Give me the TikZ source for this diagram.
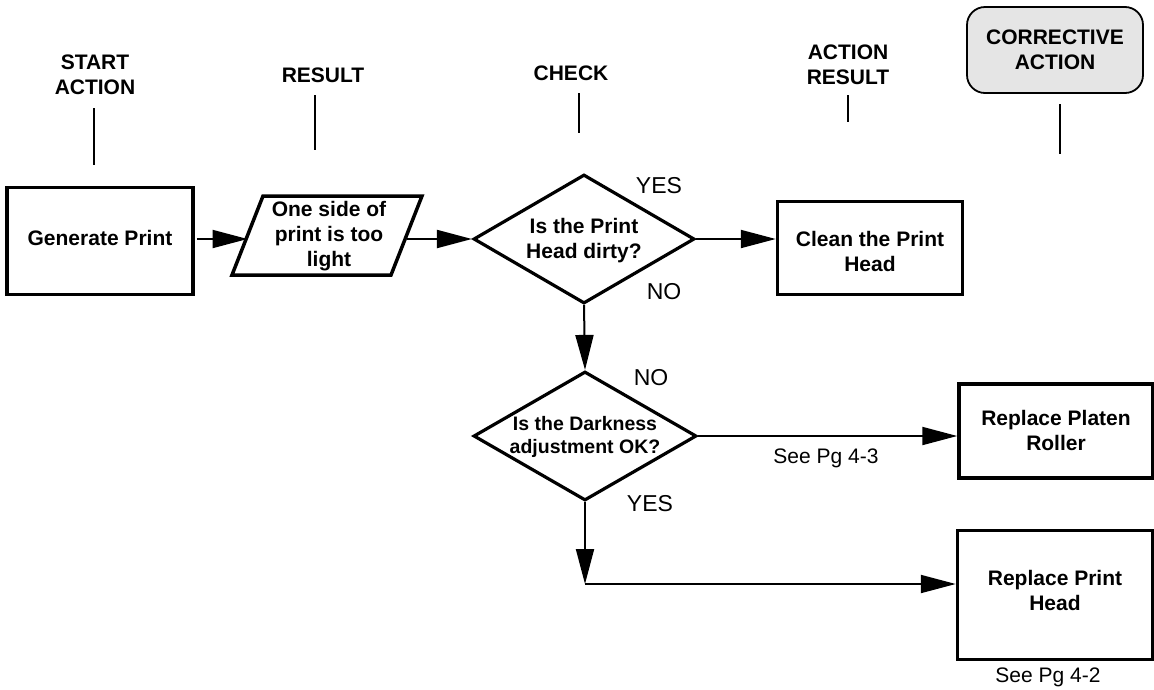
\documentclass[tikz,border=0pt]{standalone}
\usepackage{fontspec}
\setmainfont{Liberation Sans}
\usetikzlibrary{arrows.meta,shapes.geometric}
\begin{document}
\begin{tikzpicture}[x=1pt,y=-1pt,
  box/.style={draw,line width=3.5pt,rectangle,inner sep=0pt},
  dia/.style={draw,line width=3.2pt,diamond,inner sep=0pt,minimum width=221pt,minimum height=129pt},
  lbl/.style={font=\fontsize{21}{25}\selectfont\bfseries,align=center,inner sep=0pt},
  plain/.style={font=\fontsize{23}{27}\selectfont,inner sep=0pt},
  small/.style={font=\fontsize{21}{25}\selectfont,inner sep=0pt},
  hdr/.style={line width=1.8pt},
  conn/.style={line width=2pt,-{Triangle[length=35pt,width=18pt]}}]
\useasboundingbox (0,0) rectangle (1154,689);
% header labels
\node[lbl] (hstart) at (95,75) {START\\ACTION};
\node[lbl] (hres) at (323,75) {RESULT};
\node[lbl] (hchk) at (571,73) {CHECK};
\node[lbl] (hact) at (848,65) {ACTION\\RESULT};
\node[draw,line width=1.8pt,rounded corners=18pt,fill=black!10,minimum width=176pt,minimum height=86pt,lbl] (hcor) at (1055,50) {CORRECTIVE\\ACTION};
\coordinate (l1a) at (94,108); \coordinate (l1b) at (94,165);
\coordinate (l2a) at (315,95); \coordinate (l2b) at (315,150);
\coordinate (l3a) at (579,93); \coordinate (l3b) at (579,133);
\coordinate (l4a) at (848,95); \coordinate (l4b) at (848,122);
\coordinate (l5a) at (1060,104); \coordinate (l5b) at (1060,154);
\draw[hdr] (l1a) -- (l1b);
\draw[hdr] (l2a) -- (l2b);
\draw[hdr] (l3a) -- (l3b);
\draw[hdr] (l4a) -- (l4b);
\draw[hdr] (l5a) -- (l5b);
% nodes
\node[box,minimum width=186pt,minimum height=107pt] (gen) at (100,241) {};
\node[lbl] (gent) at (100,238) {Generate Print};
\coordinate (p1) at (263,196); \coordinate (p2) at (422,196);
\coordinate (p3) at (391,275); \coordinate (p4) at (232,275);
\draw[line width=3.5pt,line join=miter] (p1) -- (p2) -- (p3) -- (p4) -- cycle;
\coordinate (pin) at (247.5,239); \coordinate (pout) at (406.5,239);
\node[lbl] (rest) at (329,236) {One side of\\print is too\\light};
\node[dia] (d1) at (584,239) {};
\node[lbl] (d1t) at (584,241) {Is the Print\\Head dirty?};
\node[box,minimum width=185pt,minimum height=93pt] (clean) at (870,248) {};
\node[lbl] (cleant) at (870,251) {Clean the Print\\Head};
\node[dia,minimum width=223pt] (d2) at (585,436) {};
\node[lbl,font=\fontsize{19.5}{23}\selectfont\bfseries] (d2t) at (585,437) {Is the Darkness\\adjustment OK?};
\node[box,minimum width=194pt,minimum height=94pt] (plat) at (1056,431) {};
\node[lbl] (platt) at (1056,430) {Replace Platen\\Roller};
\node[box,minimum width=195pt,minimum height=129pt] (rph) at (1055,595) {};
\node[lbl] (rpht) at (1055,590) {Replace Print\\Head};
% labels
\node[plain] (yes1) at (659,186) {YES};
\node[plain] (no1) at (664,292) {NO};
\node[plain] (no2) at (651,378) {NO};
\node[plain] (yes2) at (650,504) {YES};
\node[small] (see3) at (826,458) {See Pg 4-3};
\node[small] (see2) at (1048,677) {See Pg 4-2};
% connectors
\draw[conn] ([xshift=2pt]gen.east |- pin) -- (pin);
\draw[conn] (pout) -- (d1.west);
\draw[conn] (d1.east) -- (clean.west |- d1.east);
\draw[conn] (d1.south) -- (d2.north);
\draw[conn] (d2.east) -- (plat.west |- d2.east);
\coordinate (corner) at (d2.south |- 0,584);
\draw[conn] (d2.south) -- (corner);
\draw[conn] (corner) -- (rph.west |- corner);
\end{tikzpicture}
\end{document}
